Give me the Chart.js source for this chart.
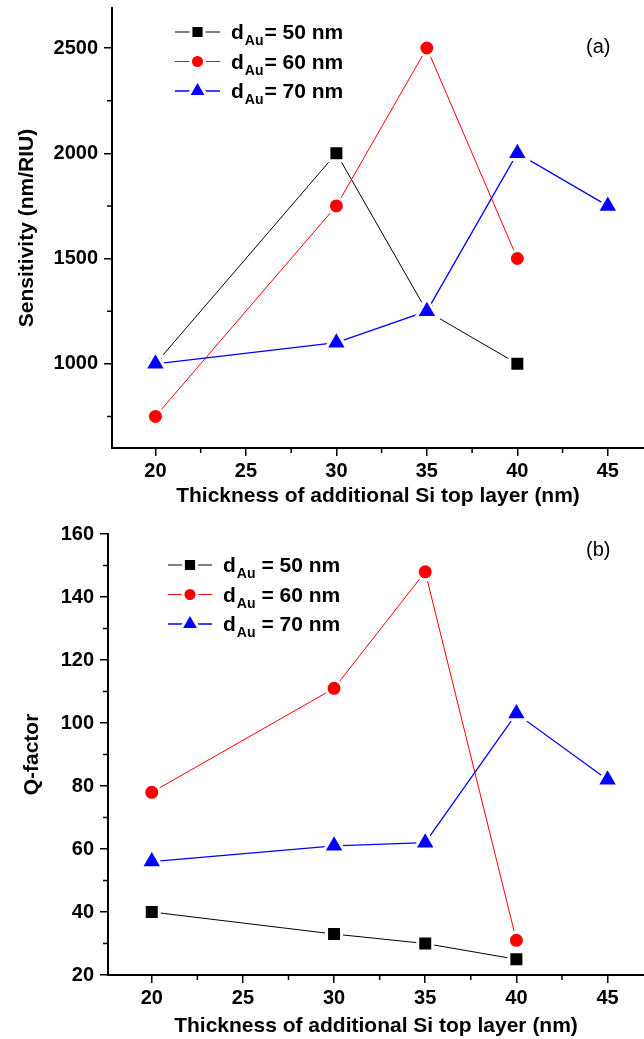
<!DOCTYPE html>
<html>
<head>
<meta charset="utf-8">
<title>Sensitivity and Q-factor</title>
<script src="https://cdn.jsdelivr.net/npm/chart.js@4.4.1/dist/chart.umd.min.js"></script>
<style>
  html, body { margin: 0; padding: 0; background: #fff; }
  .panel { position: absolute; left: 0; width: 644px; }
  #wrapA { top: 0; height: 520px; }
  #wrapB { top: 520px; height: 519px; }
</style>
</head>
<body>
<div class="panel" id="wrapA"><canvas id="chartA"></canvas></div>
<div class="panel" id="wrapB"><canvas id="chartB"></canvas></div>
<script>
// Si top layer thickness (nm)
const thickness = [20, 30, 35, 40, 45];
const goldLabels = ['50', '60', '70'];

// (a) sensitivity, nm/RIU
const sens50 = [1000, 2000, 1250, 1000];
const sens60 = [750, 1750, 2500, 1500];
const sens70 = [1000, 1100, 1250, 2000, 1750];

// (b) Q-factor
const q50 = [40, 33, 30, 25];
const q60 = [78, 111, 148, 31];
const q70 = [56, 61, 62, 103, 82];

// tick values
const xMajor = [20, 25, 30, 35, 40, 45];
const xMinor = [22.5, 27.5, 32.5, 37.5, 42.5];
const sensMajor = [1000, 1500, 2000, 2500];
const sensMinor = [750, 1250, 1750, 2250];
const qMajor = [20, 40, 60, 80, 100, 120, 140, 160];
const qMinor = [30, 50, 70, 90, 110, 130, 150];

const FONT = '"Liberation Sans", Arial, sans-serif';

function toPoints(values) {
    return values.map((v, i) => ({ x: thickness[i], y: v }));
}

// white marker border leaves the small gap between line and symbol
function makeDatasets(a, b, c) {
    const common = { pointBorderColor: '#fff', pointBorderWidth: 3, pointHoverBorderWidth: 3 };
    return [
        Object.assign({ label: goldLabels[0], data: toPoints(a), borderColor: '#000', backgroundColor: '#000',
          borderWidth: 1, pointStyle: 'rect', pointRadius: 10.6, order: 2 }, common),
        Object.assign({ label: goldLabels[1], data: toPoints(b), borderColor: '#ff0000', backgroundColor: '#ff0000',
          borderWidth: 1, pointStyle: 'circle', pointRadius: 8, order: 1 }, common),
        Object.assign({ label: goldLabels[2], data: toPoints(c), borderColor: '#0000ff', backgroundColor: '#0000ff',
          borderWidth: 1.3, pointStyle: 'triangle', pointRadius: 12.5, order: 0 }, common)
    ];
}

// short minor ticks on both axes
const minorTicks = {
    id: 'minorTicks',
    afterDraw(chart, args, opts) {
        const { ctx, chartArea, scales } = chart;
        ctx.save();
        ctx.strokeStyle = '#000';
        ctx.lineWidth = 1.5;
        ctx.beginPath();
        opts.x.forEach(v => {
            const px = scales.x.getPixelForValue(v);
            ctx.moveTo(px, chartArea.bottom);
            ctx.lineTo(px, chartArea.bottom + opts.len);
        });
        opts.y.forEach(v => {
            const py = scales.y.getPixelForValue(v);
            ctx.moveTo(chartArea.left, py);
            ctx.lineTo(chartArea.left - opts.len, py);
        });
        ctx.stroke();
        ctx.restore();
    }
};

// legend with subscripts + panel tag
const subLegend = {
    id: 'subLegend',
    afterDraw(chart, args, opts) {
        const ctx = chart.ctx;
        ctx.save();
        chart.data.datasets.forEach((ds, i) => {
            const y = opts.y + i * opts.rowGap;
            ctx.strokeStyle = ds.borderColor;
            ctx.lineWidth = ds.borderWidth;
            ctx.beginPath();
            ctx.moveTo(opts.x0, y);
            ctx.lineTo(opts.x1, y);
            ctx.stroke();
            ctx.fillStyle = ds.backgroundColor;
            ctx.strokeStyle = '#fff';
            ctx.lineWidth = 3;
            Chart.helpers.drawPoint(ctx, {
                pointStyle: ds.pointStyle, radius: ds.pointRadius * 0.88, rotation: 0, borderWidth: 3
            }, (opts.x0 + opts.x1) / 2, y);

            const base = y + 7;
            let tx = opts.textX;
            ctx.fillStyle = '#000';
            ctx.textBaseline = 'alphabetic';
            ctx.textAlign = 'left';
            ctx.font = 'bold 21px ' + FONT;
            ctx.fillText('d', tx, base);
            tx += ctx.measureText('d').width + 1;
            ctx.font = 'bold 14px ' + FONT;
            ctx.fillText('Au', tx, base + 6);
            tx += ctx.measureText('Au').width + opts.eqGap;
            ctx.font = 'bold 21px ' + FONT;
            ctx.fillText('= ' + ds.label + ' nm', tx, base);
        });
        ctx.font = '20px ' + FONT;
        ctx.textBaseline = 'middle';
        ctx.fillStyle = '#000';
        ctx.fillText(opts.tag, opts.tagX, opts.tagY);
        ctx.restore();
    }
};

function makeChart(id, cfg) {
    return new Chart(document.getElementById(id), {
        type: 'line',
        data: { datasets: cfg.datasets },
        options: {
            responsive: true,
            maintainAspectRatio: false,
            animation: false,
            events: [],
            layout: { autoPadding: false, padding: { top: cfg.top, left: 0, right: 0, bottom: 0 } },
            elements: {
                line: { tension: 0 }
            },
            scales: {
                x: {
                    type: 'linear',
                    min: 17.6,
                    max: 47,
                    afterBuildTicks: s => { s.ticks = xMajor.map(v => ({ value: v })); },
                    afterFit: s => { s.height = cfg.xHeight; s.paddingLeft = 0; s.paddingRight = 0; },
                    grid: { drawOnChartArea: false, color: '#000', lineWidth: 1.5, tickLength: 8 },
                    border: { display: true, color: '#000', width: 2 },
                    ticks: { color: '#000', padding: 3, callback: v => String(v),
                             font: { family: FONT, size: 20, weight: 'bold' } },
                    title: {
                        display: true,
                        text: 'Thickness of additional Si top layer (nm)',
                        color: '#000',
                        font: { family: FONT, size: 21, weight: 'bold' },
                        padding: { top: 0, bottom: cfg.xTitlePad }
                    }
                },
                y: {
                    type: 'linear',
                    min: cfg.yMin,
                    max: cfg.yMax,
                    afterBuildTicks: s => { s.ticks = cfg.yMajor.map(v => ({ value: v })); },
                    afterFit: s => { s.width = cfg.yWidth; s.paddingTop = 0; s.paddingBottom = 0; },
                    grid: { drawOnChartArea: false, color: '#000', lineWidth: 1.5, tickLength: 8 },
                    border: { display: true, color: '#000', width: 2 },
                    ticks: { color: '#000', padding: 6, callback: v => String(v),
                             font: { family: FONT, size: 20, weight: 'bold' } },
                    title: {
                        display: true,
                        text: cfg.yTitle,
                        color: '#000',
                        font: { family: FONT, size: 21, weight: 'bold' },
                        padding: { top: cfg.yTitlePad, bottom: 0 }
                    }
                }
            },
            plugins: {
                legend: { display: false },
                tooltip: { enabled: false },
                minorTicks: { x: xMinor, y: cfg.yMinor, len: 5 },
                subLegend: cfg.legend
            }
        },
        plugins: [minorTicks, subLegend]
    });
}

makeChart('chartA', {
    datasets: makeDatasets(sens50, sens60, sens70),
    top: 8, xHeight: 72, yWidth: 112, xTitlePad: 11, yTitlePad: 15,
    yMin: 600, yMax: 2690, yMajor: sensMajor, yMinor: sensMinor,
    yTitle: 'Sensitivity (nm/RIU)',
    legend: { x0: 175, x1: 220, textX: 231, y: 32, rowGap: 29.5, eqGap: 1, tag: '(a)', tagX: 586, tagY: 47 }
});

makeChart('chartB', {
    datasets: makeDatasets(q50, q60, q70),
    top: 14, xHeight: 64, yWidth: 108, xTitlePad: 0, yTitlePad: 20,
    yMin: 20, yMax: 160, yMajor: qMajor, yMinor: qMinor,
    yTitle: 'Q-factor',
    legend: { x0: 168, x1: 212, textX: 223, y: 45, rowGap: 29.5, eqGap: 6, tag: '(b)', tagX: 586, tagY: 30 }
});
</script>
</body>
</html>
